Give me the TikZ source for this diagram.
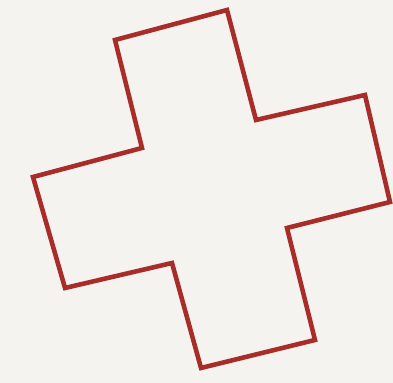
\documentclass[tikz,border=0pt]{standalone}
\usepackage{tikz}
\usetikzlibrary{calc}
\usepackage{xcolor}

\definecolor{paper}{RGB}{244,243,240}
\definecolor{crossred}{RGB}{168,45,40}

\begin{document}
\begin{tikzpicture}[x=0.01cm, y=-0.01cm,
  outline/.style={crossred, line width=1.3pt, line join=miter}]
  % page
  \fill[paper] (0,0) rectangle (393,383);
  \useasboundingbox (0,0) rectangle (393,383);
  % corners of the tilted cross
  \coordinate (tl) at (115,40);
  \coordinate (tr) at (227,10);
  \coordinate (nr) at (256,120);
  \coordinate (rt) at (365,95);
  \coordinate (rb) at (390,202);
  \coordinate (sr) at (287,228);
  \coordinate (br) at (315,340);
  \coordinate (bl) at (201,368);
  \coordinate (sl) at (172,263);
  \coordinate (lb) at (65,288);
  \coordinate (lt) at (33,177);
  \coordinate (nl) at (142,148);
  \draw[outline] (tl) -- (tr) -- (nr) -- (rt) -- (rb) -- (sr)
    -- (br) -- (bl) -- (sl) -- (lb) -- (lt) -- (nl) -- cycle;
\end{tikzpicture}
\end{document}
